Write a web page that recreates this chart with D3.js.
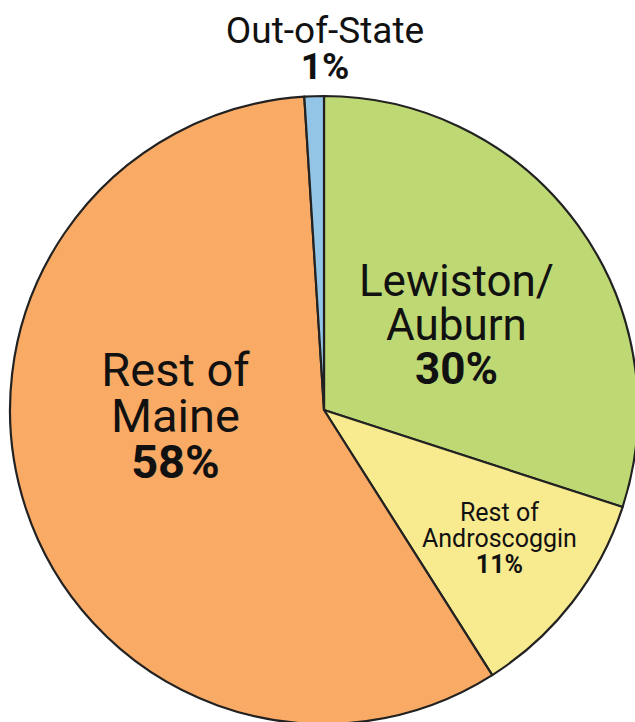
<!DOCTYPE html>
<html>
<head>
<meta charset="utf-8">
<script src="https://cdn.jsdelivr.net/npm/d3@7"></script>
<style>
  html, body { margin: 0; padding: 0; background: #fff; }
  text { font-family: Roboto, "Noto Sans", sans-serif; fill: #111; }
</style>
</head>
<body>
<div id="chartArea"></div>
<script>
// slice data, clockwise from 12 o'clock
var categories = ['Lewiston/Auburn', 'Rest of Androscoggin', 'Rest of Maine', 'Out-of-State'];
var shares = [30, 11, 58, 1];
var colors = ['#bed874', '#f8ea8f', '#f9ab65', '#93c6e6'];
var labelLines = [['Lewiston/', 'Auburn'], ['Rest of', 'Androscoggin'], ['Rest of', 'Maine'], ['Out-of-State']];

var width = 635, height = 722;
var cx = 324, cy = 410, radius = 314;

var svg = d3.select('#chartArea').append('svg')
    .attr('width', width)
    .attr('height', height);

var pie = d3.pie().sort(null).value(function(d){ return d; });
var arcs = pie(shares);
var arc = d3.arc().innerRadius(0).outerRadius(radius);

var g = svg.append('g').attr('transform', 'translate(' + cx + ',' + cy + ')');

g.selectAll('path').data(arcs).enter().append('path')
    .attr('d', arc)
    .attr('fill', function(d, i){ return colors[i]; })
    .attr('stroke', '#222')
    .attr('stroke-width', 2.2)
    .attr('stroke-linejoin', 'round');

// label layout: radius from centre, angle shift (deg), font size, line height, pct size
var labelLayout = [
    {r: 150, shift: 8, size: 44, lh: 44, pct: 44, dy: -15},
    {r: 222, shift: 0, size: 25, lh: 26, pct: 25, dy: -8},
    {r: 150, shift: 10, size: 47, lh: 46, pct: 47, dy: -15},
    {r: 0, shift: 0, size: 37, lh: 36, pct: 37, dy: 0}
];

arcs.forEach(function(d, i) {
    var L = labelLayout[i];
    var lines = labelLines[i];
    var x, y;
    if (i === 3) {
        // out-of-state sits above the pie
        x = 1; y = -362;
    } else {
        var a = (d.startAngle + d.endAngle) / 2 + L.shift * Math.PI / 180;
        x = L.r * Math.sin(a);
        y = -L.r * Math.cos(a) + L.dy;
    }
    var t = g.append('text').attr('text-anchor', 'middle')
        .attr('font-size', L.size);
    var n = lines.length + 1;
    var top = y - (n - 1) * L.lh / 2 + L.size * 0.35;
    lines.forEach(function(s, k) {
        t.append('tspan').attr('x', x).attr('y', top + k * L.lh).text(s);
    });
    t.append('tspan').attr('x', x).attr('y', top + lines.length * L.lh)
        .attr('font-weight', 'bold').attr('font-size', L.pct).text(shares[i] + '%');
});
</script>
</body>
</html>
